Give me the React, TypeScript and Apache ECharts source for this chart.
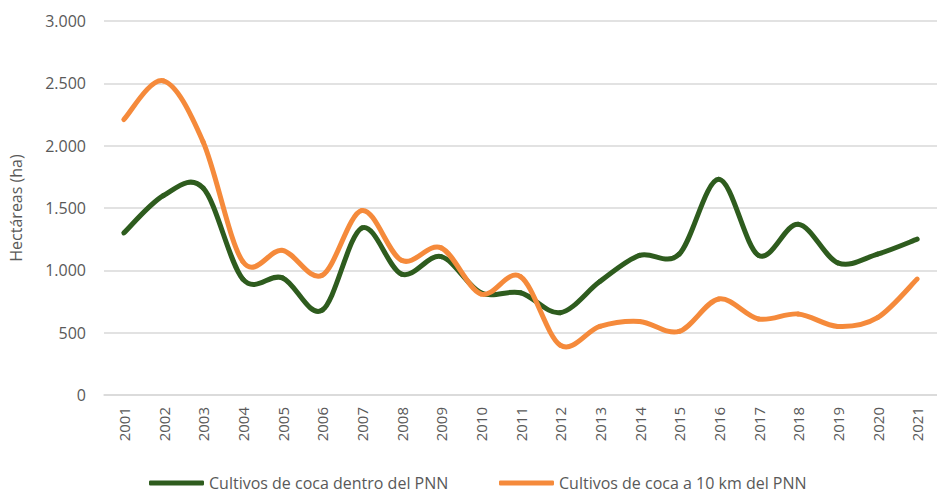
import React, { useEffect, useRef } from "react";
import * as echarts from "echarts";

const years = ["2001","2002","2003","2004","2005","2006","2007","2008","2009","2010","2011","2012","2013","2014","2015","2016","2017","2018","2019","2020","2021"];
const dentro = [1300,1600,1660,930,940,680,1340,970,1110,820,820,660,910,1120,1130,1730,1120,1370,1060,1130,1250];
const cercanos = [2210,2520,2030,1070,1160,960,1480,1080,1180,810,950,400,550,590,510,770,610,650,550,620,930];
const yTicks = [0, 500, 1000, 1500, 2000, 2500, 3000];
const seriesNames = ["Cultivos de coca dentro del PNN", "Cultivos de coca a 10 km del PNN"];
const seriesColors = ["#2e5c1e", "#f58a3b"];

const fmt = (v: number) => String(v).replace(/\B(?=(\d{3})+(?!\d))/g, ".");

function smoothRenderer(values: number[], color: string) {
  const n = values.length;
  return (params: any, api: any) => {
    const i = params.dataIndex;
    if (i >= n - 1) return null;
    const i0 = Math.max(i - 1, 0);
    const i3 = Math.min(i + 2, n - 1);
    const p0 = api.coord([i0, values[i0]]);
    const p1 = api.coord([i, values[i]]);
    const p2 = api.coord([i + 1, values[i + 1]]);
    const p3 = api.coord([i3, values[i3]]);
    return {
      type: "bezierCurve",
      shape: {
        x1: p1[0],
        y1: p1[1],
        cpx1: p1[0] + (p2[0] - p0[0]) / 6,
        cpy1: p1[1] + (p2[1] - p0[1]) / 6,
        cpx2: p2[0] - (p3[0] - p1[0]) / 6,
        cpy2: p2[1] - (p3[1] - p1[1]) / 6,
        x2: p2[0],
        y2: p2[1],
      },
      style: { stroke: color, lineWidth: 5, fill: "none", lineCap: "round" },
    };
  };
}

export default function App() {
  const ref = useRef<HTMLDivElement>(null);
  useEffect(() => {
    if (!ref.current) return;
    const chart = echarts.init(ref.current, null, { renderer: "svg" });
    const font = "'Open Sans', sans-serif";
    const legendCommon = {
      top: 473,
      padding: 2,
      itemWidth: 55,
      itemHeight: 5,
      icon: "roundRect",
      textStyle: { color: "#595959", fontSize: 16, fontFamily: font },
    };
    chart.setOption({
      animation: false,
      textStyle: { fontFamily: font },
      grid: { left: 98, right: -11, top: 21, bottom: 100, containLabel: false },
      legend: [
        { ...legendCommon, left: 147, data: [seriesNames[0]] },
        { ...legendCommon, left: 497, data: [seriesNames[1]] },
      ],
      xAxis: {
        type: "category",
        data: years,
        boundaryGap: true,
        axisLine: { lineStyle: { color: "#d9d9d9", width: 1.5 } },
        axisTick: { show: false },
        axisLabel: { rotate: 90, color: "#595959", fontSize: 15, margin: 12, fontFamily: font },
      },
      yAxis: {
        type: "value",
        min: yTicks[0],
        max: yTicks[yTicks.length - 1],
        interval: 500,
        name: "Hectáreas (ha)",
        nameLocation: "middle",
        nameGap: 80,
        nameRotate: 90,
        nameTextStyle: { color: "#595959", fontSize: 16, fontFamily: font },
        axisLine: { show: false },
        axisTick: { show: false },
        axisLabel: { color: "#595959", fontSize: 16, margin: 18, formatter: (v: number) => fmt(v), fontFamily: font },
        splitLine: { lineStyle: { color: "#d9d9d9", width: 1.5 } },
      },
      series: [
        {
          name: seriesNames[0],
          type: "custom",
          data: dentro.map((v, i) => [i, v]),
          encode: { x: 0, y: 1 },
          renderItem: smoothRenderer(dentro, seriesColors[0]),
          itemStyle: { color: seriesColors[0] },
        },
        {
          name: seriesNames[1],
          type: "custom",
          data: cercanos.map((v, i) => [i, v]),
          encode: { x: 0, y: 1 },
          renderItem: smoothRenderer(cercanos, seriesColors[1]),
          itemStyle: { color: seriesColors[1] },
        },
      ],
    });
    return () => chart.dispose();
  }, []);
  return <div ref={ref} style={{ width: 937, height: 495, position: "absolute", left: 0, top: 0, background: "#fff" }} />;
}
